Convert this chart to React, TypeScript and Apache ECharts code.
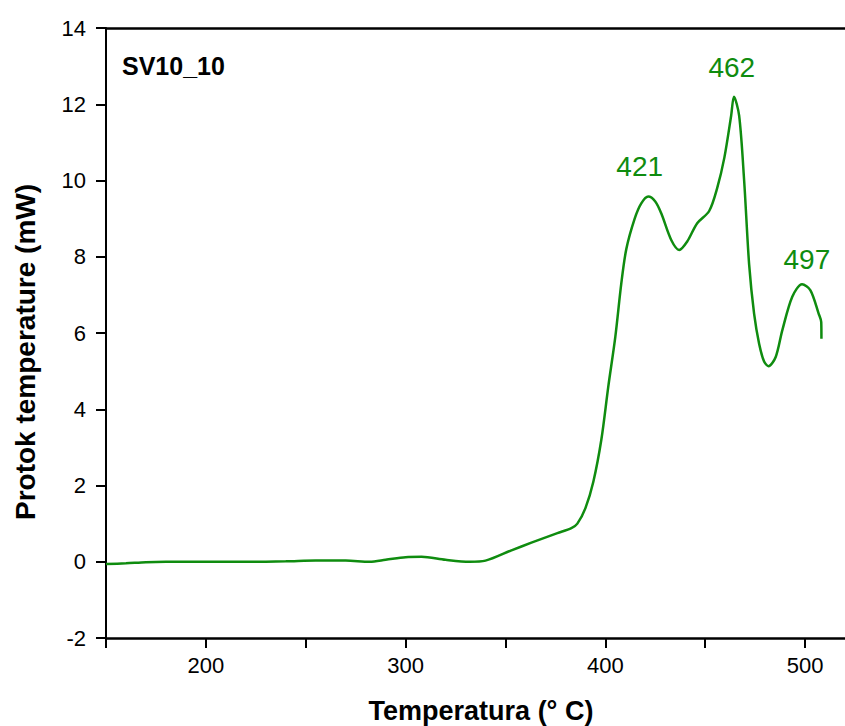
import React, { useEffect, useRef } from "react";
import * as echarts from "echarts";

// Temperature (°C) and heat flow (mW)
const temperature = [
  150, 160, 170, 180, 200, 220, 240, 255, 270, 282, 290, 300, 308, 320, 332, 340,
  353, 363, 376, 383, 386, 390, 394, 398, 401.5, 405, 408, 410.5, 414.7, 418,
  421.5, 425, 428, 433, 437, 441, 446, 452, 456, 459.6, 463, 464.4, 467, 469.5,
  472, 474.5, 477, 479.5, 481.7, 485.3, 488.6, 493.6, 498.5, 502.7, 506.8, 508.1, 508.2,
];
const heatFlow = [
  -0.06, -0.04, -0.01, 0.0, 0.0, 0.0, 0.01, 0.03, 0.03, 0.0, 0.05, 0.12, 0.13, 0.05, 0.0, 0.03,
  0.3, 0.5, 0.75, 0.88, 1.0, 1.4, 2.1, 3.2, 4.6, 5.9, 7.3, 8.2, 9.0, 9.4,
  9.58, 9.45, 9.14, 8.44, 8.18, 8.4, 8.88, 9.2, 9.8, 10.6, 11.7, 12.2, 11.7, 10.0,
  7.8, 6.5, 5.72, 5.25, 5.13, 5.37, 6.07, 6.95, 7.28, 7.12, 6.51, 6.29, 5.85,
];

// Peak annotations (text and position in data units)
const peakLabels = ["421", "462", "497"];
const peakLabelX = [417.2, 463.3, 500.9];
const peakLabelY = [10.36, 12.96, 7.92];

const xTitle = "Temperatura (° C)";
const yTitle = "Protok temperature (mW)";
const sampleName = "SV10_10";

const GREEN = "#0f8c0f";
const FONT = "'Liberation Sans', Arial, Helvetica, sans-serif";

export default function App() {
  const ref = useRef<HTMLDivElement>(null);

  useEffect(() => {
    document.body.style.margin = "0";
    if (!ref.current) return;
    const chart = echarts.init(ref.current, undefined, { renderer: "svg" });
    const data = temperature.map((t, i) => [t, heatFlow[i]]);
    chart.setOption({
      animation: false,
      backgroundColor: "#ffffff",
      grid: { left: 106, top: 28, width: 747, height: 610, containLabel: false },
      xAxis: [
        {
          type: "value",
          min: 150,
          max: 520,
          interval: 50,
          position: "bottom",
          axisLine: { show: true, onZero: false, lineStyle: { color: "#000", width: 2.5 } },
          axisTick: { show: true, inside: false, length: 10, lineStyle: { color: "#000", width: 2 } },
          axisLabel: {
            margin: 16,
            fontSize: 22,
            fontFamily: FONT,
            color: "#000",
            showMaxLabel: false,
            formatter: (v: number) => (v % 100 === 0 ? String(v) : ""),
          },
          splitLine: { show: false },
        },
        {
          type: "value",
          min: 150,
          max: 520,
          position: "top",
          axisLine: { show: true, onZero: false, lineStyle: { color: "#000", width: 2.5 } },
          axisTick: { show: false },
          axisLabel: { show: false },
          splitLine: { show: false },
        },
      ],
      yAxis: {
        type: "value",
        min: -2,
        max: 14,
        interval: 2,
        axisLine: { show: true, onZero: false, lineStyle: { color: "#000", width: 2 } },
        axisTick: { show: true, inside: false, length: 10, lineStyle: { color: "#000", width: 2 } },
        axisLabel: { margin: 20, fontSize: 22, fontFamily: FONT, color: "#000" },
        splitLine: { show: false },
      },
      series: [
        {
          type: "line",
          data,
          xAxisIndex: 0,
          showSymbol: false,
          symbol: "none",
          smooth: 0.3,
          lineStyle: { color: GREEN, width: 2.5 },
          markPoint: {
            symbol: "rect",
            symbolSize: 1,
            itemStyle: { color: "rgba(0,0,0,0)" },
            label: {
              show: true,
              position: "inside",
              fontSize: 28,
              fontFamily: FONT,
              color: GREEN,
              formatter: (p: any) => p.name,
            },
            data: peakLabels.map((n, i) => ({ name: n, coord: [peakLabelX[i], peakLabelY[i]] })),
          },
        },
      ],
      graphic: [
        {
          type: "text",
          left: 122,
          top: 53,
          style: { text: sampleName, font: `bold 25px ${FONT}`, fill: "#000" },
        },
        {
          type: "text",
          x: 481,
          y: 711,
          style: {
            text: xTitle,
            font: `bold 27px ${FONT}`,
            fill: "#000",
            align: "center",
            verticalAlign: "middle",
          },
        },
        {
          type: "text",
          x: 25,
          y: 352,
          rotation: Math.PI / 2,
          style: {
            text: yTitle,
            font: `bold 28px ${FONT}`,
            fill: "#000",
            align: "center",
            verticalAlign: "middle",
          },
        },
      ],
    });
    return () => chart.dispose();
  }, []);

  return <div ref={ref} style={{ width: 845, height: 726 }} />;
}
